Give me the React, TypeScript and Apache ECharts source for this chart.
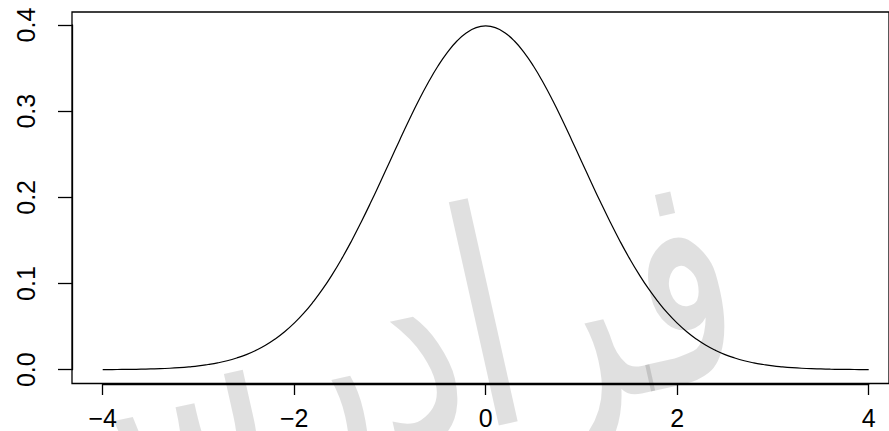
import React, { useEffect, useRef } from "react";
import * as echarts from "echarts";

// x positions of the density curve
const xValues: number[] = [
  -4.0, -3.9, -3.8, -3.7, -3.6, -3.5, -3.4, -3.3, -3.2, -3.1,
  -3.0, -2.9, -2.8, -2.7, -2.6, -2.5, -2.4, -2.3, -2.2, -2.1,
  -2.0, -1.9, -1.8, -1.7, -1.6, -1.5, -1.4, -1.3, -1.2, -1.1,
  -1.0, -0.9, -0.8, -0.7, -0.6, -0.5, -0.4, -0.3, -0.2, -0.1,
  0.0, 0.1, 0.2, 0.3, 0.4, 0.5, 0.6, 0.7, 0.8, 0.9,
  1.0, 1.1, 1.2, 1.3, 1.4, 1.5, 1.6, 1.7, 1.8, 1.9,
  2.0, 2.1, 2.2, 2.3, 2.4, 2.5, 2.6, 2.7, 2.8, 2.9,
  3.0, 3.1, 3.2, 3.3, 3.4, 3.5, 3.6, 3.7, 3.8, 3.9, 4.0,
];

// density values
const densityValues: number[] = [
  0.0001, 0.0002, 0.0003, 0.0004, 0.0006, 0.0009, 0.0012, 0.0017, 0.0024, 0.0033,
  0.0044, 0.006, 0.0079, 0.0104, 0.0136, 0.0175, 0.0224, 0.0283, 0.0355, 0.044,
  0.054, 0.0656, 0.079, 0.094, 0.1109, 0.1295, 0.1497, 0.1714, 0.1942, 0.2179,
  0.242, 0.2661, 0.2897, 0.3123, 0.3332, 0.3521, 0.3683, 0.3814, 0.391, 0.397,
  0.3989, 0.397, 0.391, 0.3814, 0.3683, 0.3521, 0.3332, 0.3123, 0.2897, 0.2661,
  0.242, 0.2179, 0.1942, 0.1714, 0.1497, 0.1295, 0.1109, 0.094, 0.079, 0.0656,
  0.054, 0.044, 0.0355, 0.0283, 0.0224, 0.0175, 0.0136, 0.0104, 0.0079, 0.006,
  0.0044, 0.0033, 0.0024, 0.0017, 0.0012, 0.0009, 0.0006, 0.0004, 0.0003, 0.0002, 0.0001,
];

const xTicks = { min: -4, max: 4, step: 2 };
const yTicks = { min: 0, max: 0.4, step: 0.1 };
const watermarkText = "فرادرس";

export default function App() {
  const ref = useRef<HTMLDivElement>(null);
  useEffect(() => {
    document.body.style.margin = "0";
    if (!ref.current) return;
    const chart = echarts.init(ref.current, undefined, { renderer: "svg" });
    const font = "'Liberation Sans', Arial, Helvetica, sans-serif";
    chart.setOption({
      animation: false,
      backgroundColor: "#ffffff",
      grid: [
        {
          left: 72,
          top: 12,
          width: 828,
          height: 371.5,
          show: true,
          borderColor: "#000",
          borderWidth: 1.3,
          backgroundColor: "transparent",
        },
        { left: 102.7, top: 25, width: 766, height: 344.7 },
      ],
      xAxis: [
        { gridIndex: 0, type: "value", min: -4.32, max: 4.32, show: false },
        {
          gridIndex: 1,
          type: "value",
          min: xTicks.min,
          max: xTicks.max,
          interval: xTicks.step,
          position: "bottom",
          offset: 14.3,
          splitLine: { show: false },
          axisLine: { show: true, onZero: false, lineStyle: { color: "#000", width: 1.3 } },
          axisTick: { show: true, length: 11, lineStyle: { color: "#000", width: 1.3 } },
          axisLabel: {
            color: "#000",
            fontSize: 25,
            fontFamily: font,
            margin: 21,
            showMinLabel: true,
            showMaxLabel: true,
            formatter: (v: number) => (v < 0 ? "\u2212" + String(-v) : String(v)),
          },
        },
      ],
      yAxis: [
        { gridIndex: 0, type: "value", min: -0.01596, max: 0.41489, show: false },
        {
          gridIndex: 1,
          type: "value",
          min: yTicks.min,
          max: yTicks.max,
          interval: yTicks.step,
          position: "left",
          offset: 30.7,
          splitLine: { show: false },
          axisLine: { show: true, onZero: false, lineStyle: { color: "#000", width: 1.3 } },
          axisTick: { show: true, length: 14, lineStyle: { color: "#000", width: 1.3 } },
          axisLabel: {
            color: "#000",
            fontSize: 25,
            fontFamily: font,
            rotate: 90,
            margin: 33.5,
            showMinLabel: true,
            showMaxLabel: true,
            formatter: (v: number) => v.toFixed(1),
          },
        },
      ],
      graphic: [
        {
          type: "text",
          x: 368,
          y: 348,
          rotation: 0.22,
          scaleY: 1.4,
          z: -1,
          style: {
            text: watermarkText,
            fontSize: 215,
            fontFamily: "'DejaVu Sans', sans-serif",
            fill: "rgba(0,0,0,0.12)",
            align: "center",
            verticalAlign: "middle",
          },
        },
      ],
      series: [
        {
          type: "line",
          xAxisIndex: 1,
          yAxisIndex: 1,
          data: xValues.map((x, i) => [x, densityValues[i]]),
          smooth: true,
          symbol: "none",
          clip: false,
          lineStyle: { color: "#000", width: 1.2 },
          z: 3,
        },
      ],
    });
    return () => chart.dispose();
  }, []);
  return <div ref={ref} style={{ width: 889, height: 431 }} />;
}
